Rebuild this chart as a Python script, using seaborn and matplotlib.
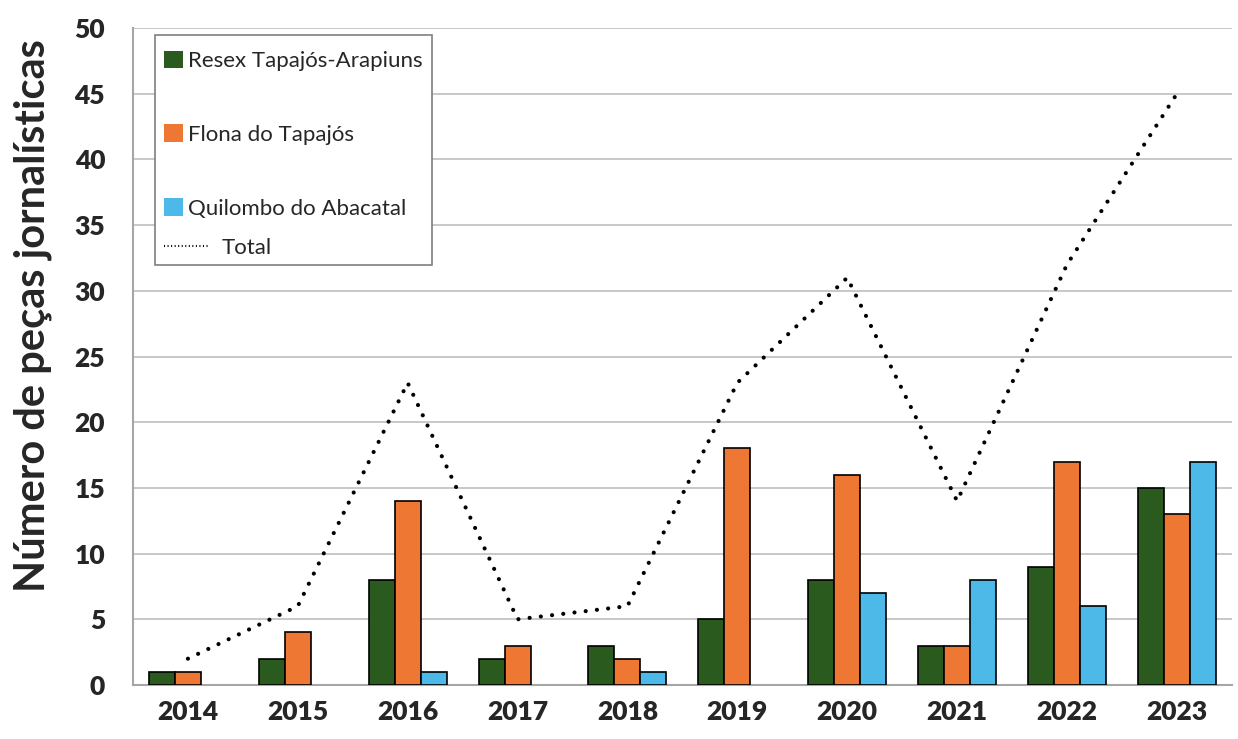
import pandas as pd
import numpy as np
import matplotlib
matplotlib.use("Agg")
import matplotlib.pyplot as plt
import seaborn as sns
from matplotlib.lines import Line2D
from matplotlib.patches import Patch, Rectangle

years = ["2014", "2015", "2016", "2017", "2018", "2019", "2020", "2021", "2022", "2023"]
resex = [1, 2, 8, 2, 3, 5, 8, 3, 9, 15]
flona = [1, 4, 14, 3, 2, 18, 16, 3, 17, 13]
quilombo = [0, 0, 1, 0, 1, 0, 7, 8, 6, 17]
total = [2, 6, 23, 5, 6, 23, 31, 14, 32, 45]

series = ["Resex Tapajós-Arapiuns", "Flona do Tapajós", "Quilombo do Abacatal"]
colors = ["#2b5a1f", "#ee7733", "#4cb9e8"]

df = pd.DataFrame({
    "ano": years * 3,
    "valor": resex + flona + quilombo,
    "area": [series[0]] * 10 + [series[1]] * 10 + [series[2]] * 10,
})

sns.set_style("white")
plt.rcParams["font.family"] = ["Lato", "DejaVu Sans"]

fig = plt.figure(figsize=(12.38, 7.39), dpi=100)
ax = fig.add_axes([0.1074, 0.0731, 0.8876, 0.8889])

sns.barplot(data=df, x="ano", y="valor", hue="area", palette=colors, saturation=1,
            width=0.71, edgecolor="black", linewidth=1.2, ax=ax, legend=False, zorder=3)
# no outline for empty bars
for p in ax.patches:
    if p.get_height() == 0:
        p.set_visible(False)

ax.plot(years, total, color="black", lw=3.0, linestyle=(0, (0.01, 2.7)),
        dash_capstyle="round", zorder=4)

ax.set_ylim(0, 50)
ax.set_xlim(-0.5, 9.5)
ax.set_yticks(range(0, 51, 5))
ax.yaxis.grid(True, color="#bfbfbf", lw=1.2, zorder=0)
ax.set_axisbelow(True)
for s in ["top", "right"]:
    ax.spines[s].set_visible(False)
for s in ["left", "bottom"]:
    ax.spines[s].set_color("#a6a6a6")
    ax.spines[s].set_linewidth(1.5)
ax.tick_params(length=0, labelsize=19)
ax.tick_params(axis="y", pad=20)
ax.tick_params(axis="x", pad=11)
for lab in ax.get_xticklabels() + ax.get_yticklabels():
    lab.set_fontweight("heavy")
ax.set_xlabel("")
ax.set_ylabel("Número de peças jornalísticas", fontsize=30, fontweight="bold")
ax.yaxis.set_label_coords(-0.074, 0.563)

# legend box
box = Rectangle((0.020, 0.639), 0.252, 0.350, transform=ax.transAxes, facecolor="white",
                edgecolor="#7f7f7f", lw=1.2, zorder=5)
ax.add_patch(box)

handles = [Patch(facecolor=c, edgecolor="none") for c in colors]
leg1 = ax.legend(handles, series, loc="upper left", bbox_to_anchor=(0.022, 0.976),
                 fontsize=16, frameon=False, labelspacing=2.4, handlelength=0.85,
                 handleheight=0.85, handletextpad=0.25, borderpad=0.3, borderaxespad=0.0)
leg1.set_zorder(6)
ax.add_artist(leg1)

tot_handle = Line2D([0], [0], color="black", lw=1.5, linestyle=(0, (0.5, 1.2)))
leg2 = ax.legend([tot_handle], ["Total"], loc="upper left", bbox_to_anchor=(0.022, 0.691),
                 fontsize=16, frameon=False, handlelength=2.1, handletextpad=0.5,
                 borderpad=0.3, borderaxespad=0.0)
leg2.set_zorder(6)

fig.savefig("out.png", dpi=100)
